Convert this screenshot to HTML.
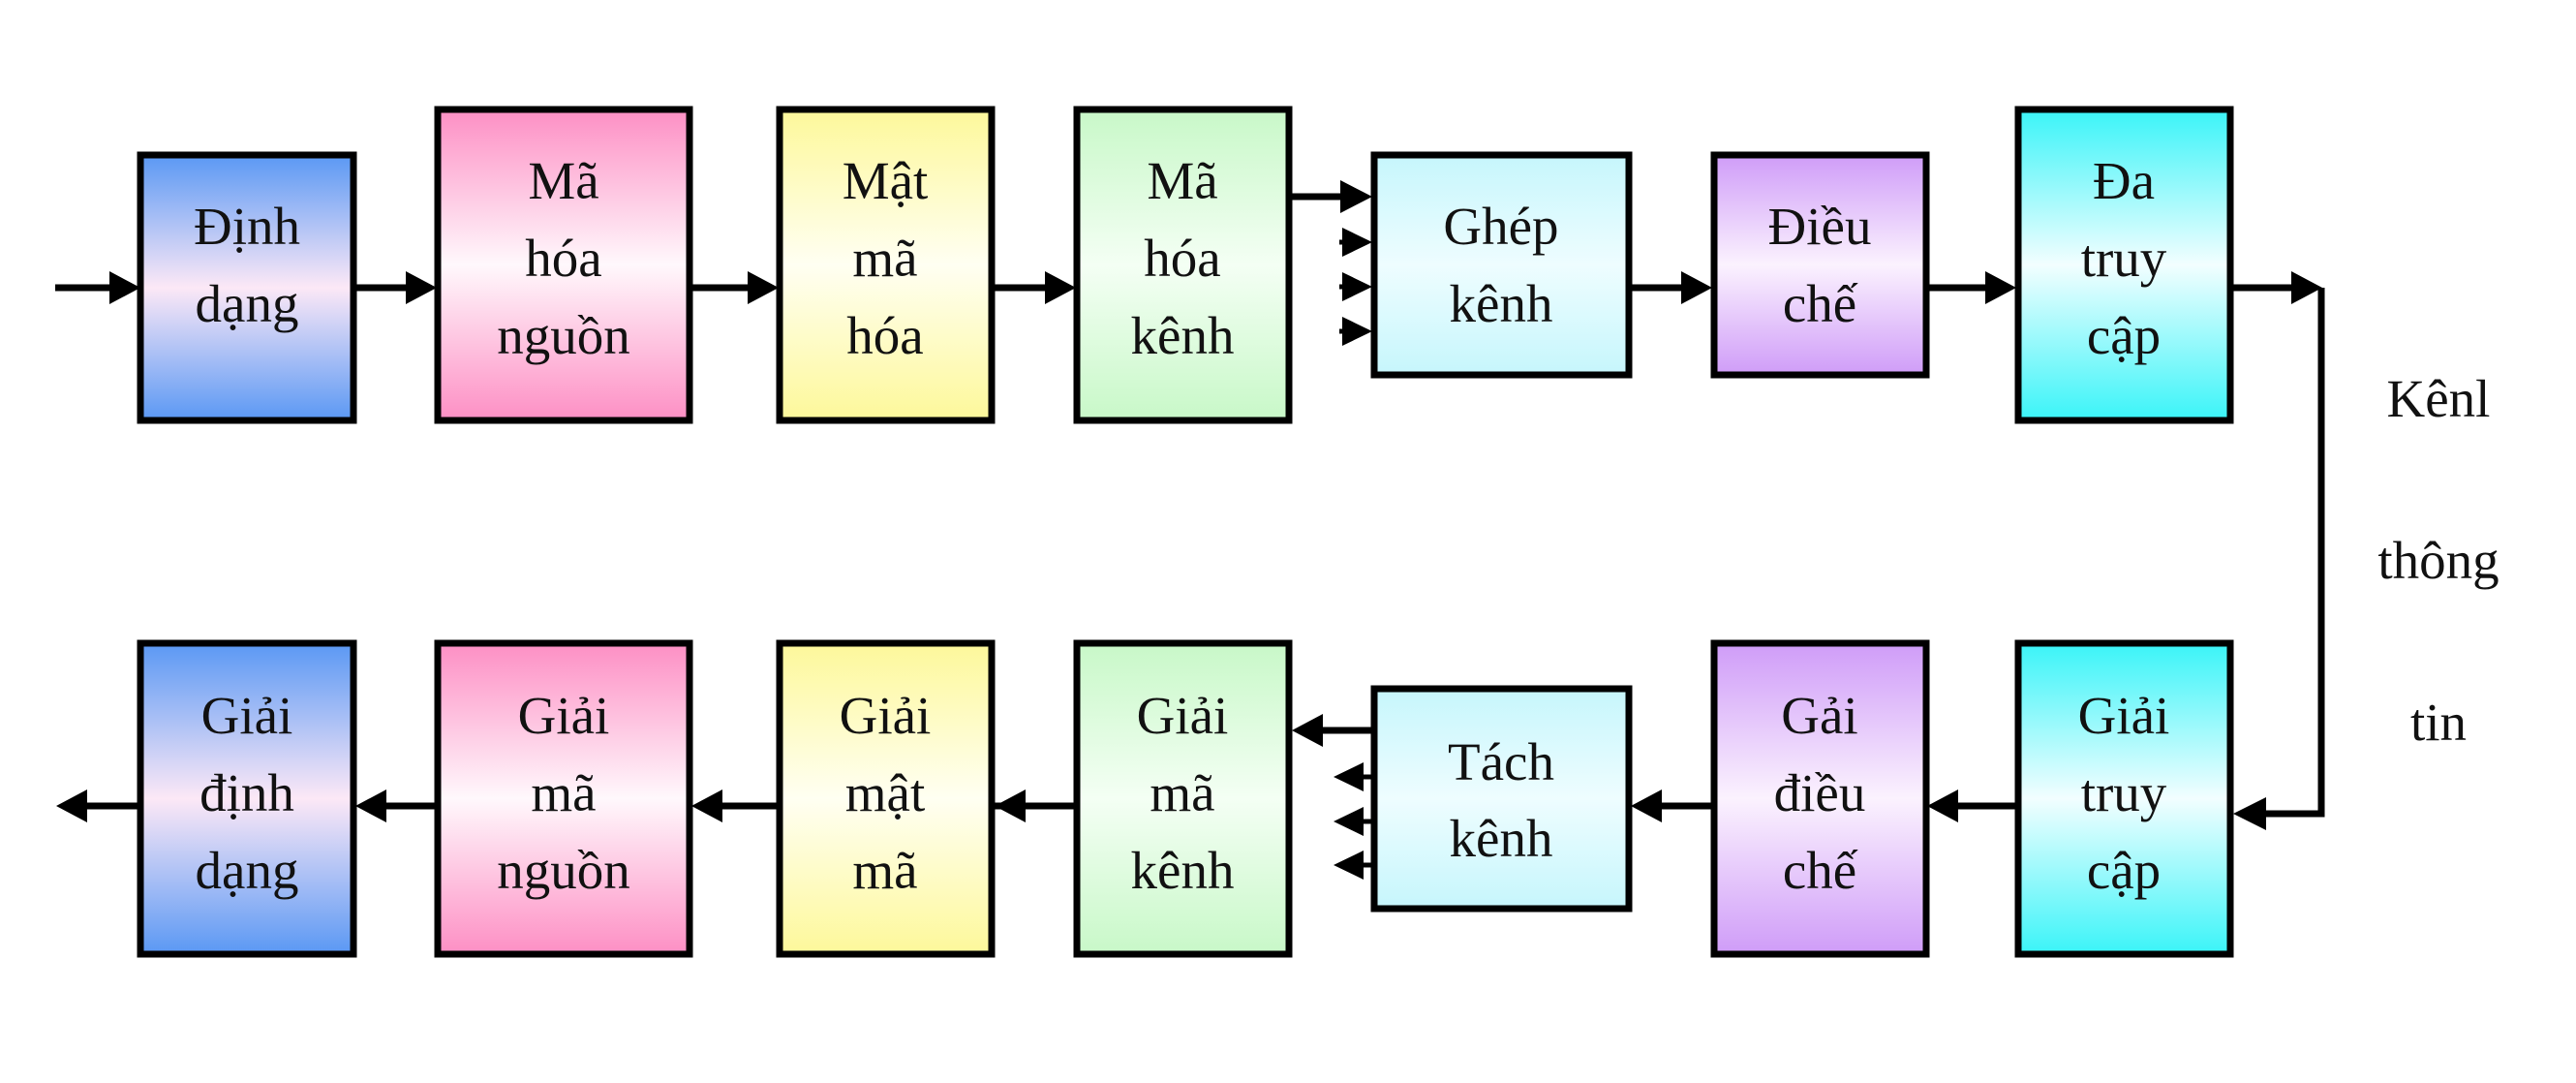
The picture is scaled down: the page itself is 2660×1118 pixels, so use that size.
<!DOCTYPE html>
<html><head><meta charset="utf-8"><style>
html,body{margin:0;padding:0;background:#fff;}
svg{display:block}
text{font-family:"Liberation Serif",serif;font-size:55px;fill:#111;text-anchor:middle}
</style></head><body>
<svg width="2660" height="1118" viewBox="0 0 2660 1118" xmlns="http://www.w3.org/2000/svg">
<defs>
<linearGradient id="gb" x1="0" y1="0" x2="0" y2="1"><stop offset="0" stop-color="#5a98f4"/><stop offset="0.5" stop-color="#fce8f6"/><stop offset="1" stop-color="#5a98f4"/></linearGradient>
<linearGradient id="gp" x1="0" y1="0" x2="0" y2="1"><stop offset="0" stop-color="#fd8fc4"/><stop offset="0.5" stop-color="#fff8fc"/><stop offset="1" stop-color="#fd8fc4"/></linearGradient>
<linearGradient id="gy" x1="0" y1="0" x2="0" y2="1"><stop offset="0" stop-color="#fdf89a"/><stop offset="0.5" stop-color="#fffff2"/><stop offset="1" stop-color="#fdf89a"/></linearGradient>
<linearGradient id="gg" x1="0" y1="0" x2="0" y2="1"><stop offset="0" stop-color="#c8f8c8"/><stop offset="0.5" stop-color="#f4fff4"/><stop offset="1" stop-color="#c8f8c8"/></linearGradient>
<linearGradient id="gc" x1="0" y1="0" x2="0" y2="1"><stop offset="0" stop-color="#c6f6fc"/><stop offset="0.5" stop-color="#eefdff"/><stop offset="1" stop-color="#c6f6fc"/></linearGradient>
<linearGradient id="gv" x1="0" y1="0" x2="0" y2="1"><stop offset="0" stop-color="#cf9cf8"/><stop offset="0.5" stop-color="#fbf2fe"/><stop offset="1" stop-color="#cf9cf8"/></linearGradient>
<linearGradient id="gt" x1="0" y1="0" x2="0" y2="1"><stop offset="0" stop-color="#3af4f8"/><stop offset="0.5" stop-color="#f2feff"/><stop offset="1" stop-color="#3af4f8"/></linearGradient>
</defs>
<g stroke="#000" stroke-width="7">
<rect x="145" y="160" width="220" height="274" fill="url(#gb)"/>
<rect x="452" y="113" width="260" height="321" fill="url(#gp)"/>
<rect x="805" y="113" width="219" height="321" fill="url(#gy)"/>
<rect x="1112" y="113" width="219" height="321" fill="url(#gg)"/>
<rect x="1419" y="160" width="263" height="227" fill="url(#gc)"/>
<rect x="1770" y="160" width="219" height="227" fill="url(#gv)"/>
<rect x="2084" y="113" width="219" height="321" fill="url(#gt)"/>
<rect x="145" y="664" width="220" height="321" fill="url(#gb)"/>
<rect x="452" y="664" width="260" height="321" fill="url(#gp)"/>
<rect x="805" y="664" width="219" height="321" fill="url(#gy)"/>
<rect x="1112" y="664" width="219" height="321" fill="url(#gg)"/>
<rect x="1419" y="711" width="263" height="227" fill="url(#gc)"/>
<rect x="1770" y="664" width="219" height="321" fill="url(#gv)"/>
<rect x="2084" y="664" width="219" height="321" fill="url(#gt)"/>
<path fill="none" d="M57 297H120 M365 297H425 M712 297H778 M1024 297H1085 M1331 203H1390 M1682 297H1742 M1989 297H2056 M2303 297H2372 M2397 297V840H2340"/>
<path fill="none" d="M1419 754H1360 M1084 832H1024 M1770 832H1710 M2084 832H2020 M452 832H390 M805 832H740 M1112 832H1050 M145 832H88"/>
<path fill="none" stroke-width="5" d="M1383 250H1395 M1383 296H1395 M1383 342H1395 M1404 802H1416 M1404 848H1416 M1404 893H1416"/>
</g>
<g fill="#000">
<polygon points="113,280 145,297 113,314"/>
<polygon points="419,280 451,297 419,314"/>
<polygon points="772,280 804,297 772,314"/>
<polygon points="1079,280 1111,297 1079,314"/>
<polygon points="1384,186 1417,203 1384,220"/>
<polygon points="1386,235 1417,250 1386,265"/>
<polygon points="1386,281 1417,296 1386,311"/>
<polygon points="1386,327 1417,342 1386,357"/>
<polygon points="1736,280 1768,297 1736,314"/>
<polygon points="2050,280 2082,297 2050,314"/>
<polygon points="2366,280 2398,297 2366,314"/>
<polygon points="2306,840 2340,823 2340,857"/>
<polygon points="1334,754 1366,737 1366,771"/>
<polygon points="1377,802 1408,787 1408,817"/>
<polygon points="1377,848 1408,833 1408,863"/>
<polygon points="1377,893 1408,878 1408,908"/>
<polygon points="1990,832 2022,815 2022,849"/>
<polygon points="1684,832 1716,815 1716,849"/>
<polygon points="1027,832 1059,815 1059,849"/>
<polygon points="714,832 746,815 746,849"/>
<polygon points="367,832 399,815 399,849"/>
<polygon points="58,832 90,815 90,849"/>
</g>
<text x="255" y="252">Định</text><text x="255" y="332">dạng</text>
<text x="582" y="205">Mã</text><text x="582" y="285">hóa</text><text x="582" y="365">nguồn</text>
<text x="914" y="205">Mật</text><text x="914" y="285">mã</text><text x="914" y="365">hóa</text>
<text x="1221" y="205">Mã</text><text x="1221" y="285">hóa</text><text x="1221" y="365">kênh</text>
<text x="1550" y="252">Ghép</text><text x="1550" y="332">kênh</text>
<text x="1879" y="252">Điều</text><text x="1879" y="332">chế</text>
<text x="2193" y="205">Đa</text><text x="2193" y="285">truy</text><text x="2193" y="365">cập</text>
<text x="2518" y="430">Kênl</text>
<text x="2518" y="597">thông</text>
<text x="2518" y="764">tin</text>
<text x="255" y="757">Giải</text><text x="255" y="837">định</text><text x="255" y="917">dạng</text>
<text x="582" y="757">Giải</text><text x="582" y="837">mã</text><text x="582" y="917">nguồn</text>
<text x="914" y="757">Giải</text><text x="914" y="837">mật</text><text x="914" y="917">mã</text>
<text x="1221" y="757">Giải</text><text x="1221" y="837">mã</text><text x="1221" y="917">kênh</text>
<text x="1550" y="805">Tách</text><text x="1550" y="884">kênh</text>
<text x="1879" y="757">Gải</text><text x="1879" y="837">điều</text><text x="1879" y="917">chế</text>
<text x="2193" y="757">Giải</text><text x="2193" y="837">truy</text><text x="2193" y="917">cập</text>
</svg>
</body></html>
